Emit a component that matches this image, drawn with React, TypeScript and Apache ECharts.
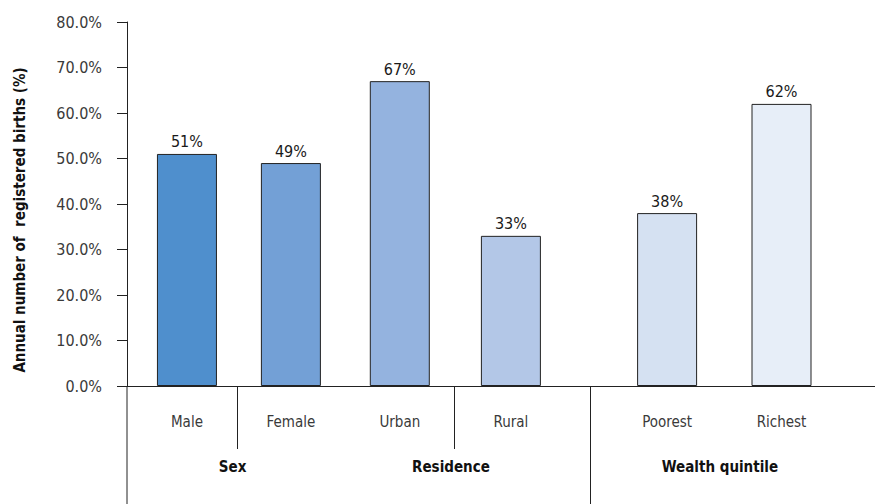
import React, { useEffect, useRef } from "react";
import * as echarts from "echarts";

const categories = ["Male", "Female", "Urban", "Rural", "Poorest", "Richest"];
const values = [51, 49, 67, 33, 38, 62];
const xPositions = [0.545, 1.49, 2.48, 3.49, 4.91, 5.95];
const barColors = ["#4f8fcd", "#73a0d6", "#94b3df", "#b3c7e7", "#d5e1f2", "#e7eef8"];
const groups = ["Sex", "Residence", "Wealth quintile"];
const groupCenters = [0.96, 2.945, 5.39];
const separators = [1.0, 2.973, 4.21];
const separatorLong = [false, false, true];
const yTicks = [0, 10, 20, 30, 40, 50, 60, 70, 80];

const FONT = "'Liberation Sans Narrow', 'DejaVu Sans Condensed', 'Roboto', sans-serif";

export default function App() {
  const ref = useRef<HTMLDivElement>(null);
  useEffect(() => {
    document.body.style.margin = "0";
    if (!ref.current) return;
    const chart = echarts.init(ref.current, null, { renderer: "svg" });
    const gridLeft = 127;
    const gridTop = 22;
    const gridHeight = 364;
    const unit = 110;
    const width = 875;
    chart.setOption({
      animation: false,
      textStyle: { fontFamily: FONT },
      grid: { left: gridLeft, top: gridTop, height: gridHeight, right: 0 },
      xAxis: {
        type: "value",
        min: 0,
        max: (width - gridLeft) / unit,
        axisLine: { show: true, onZero: true, lineStyle: { color: "#222", width: 1 } },
        axisTick: { show: false },
        axisLabel: { show: false },
        splitLine: { show: false },
      },
      yAxis: {
        type: "value",
        min: yTicks[0],
        max: yTicks[yTicks.length - 1],
        interval: 10,
        axisLine: { show: true, lineStyle: { color: "#222", width: 1 } },
        axisTick: { show: true, length: 10, lineStyle: { color: "#222" } },
        axisLabel: {
          margin: 25,
          color: "#3a3a3a",
          fontSize: 16,
          fontFamily: FONT,
          formatter: (v: number) => v.toFixed(1) + "%",
        },
        splitLine: { show: false },
      },
      series: [
        {
          type: "bar",
          barWidth: 60,
          data: xPositions.map((x, i) => ({
            value: [x, values[i]],
            itemStyle: { color: barColors[i], borderColor: "#222", borderWidth: 1 },
          })),
          label: {
            show: true,
            position: "top",
            distance: 4,
            color: "#1a1a1a",
            fontSize: 16,
            fontFamily: FONT,
            formatter: (p: any) => p.value[1] + "%",
          },
        },
      ],
    });

    const toPx = (u: number) => chart.convertToPixel({ xAxisIndex: 0 }, u) as number;
    const baseY = gridTop + gridHeight;
    const graphics: any[] = [];
    graphics.push({
      type: "line",
      shape: { x1: gridLeft, y1: baseY, x2: gridLeft, y2: 504 },
      style: { stroke: "#222", lineWidth: 1 },
    });
    separators.forEach((s, i) => {
      const x = Math.round(toPx(s)) + 0.5;
      graphics.push({
        type: "line",
        shape: { x1: x, y1: baseY, x2: x, y2: separatorLong[i] ? 504 : 449 },
        style: { stroke: "#222", lineWidth: 1 },
      });
    });
    categories.forEach((c, i) => {
      graphics.push({
        type: "text",
        x: toPx(xPositions[i]),
        y: 422,
        style: {
          text: c,
          fill: "#3a3a3a",
          font: `15px ${FONT}`,
          align: "center",
          verticalAlign: "middle",
        },
      });
    });
    groups.forEach((g, i) => {
      graphics.push({
        type: "text",
        x: toPx(groupCenters[i]),
        y: 467,
        style: {
          text: g,
          fill: "#111",
          font: `bold 15px ${FONT}`,
          align: "center",
          verticalAlign: "middle",
        },
      });
    });
    graphics.push({
      type: "text",
      x: 20,
      y: 220,
      rotation: Math.PI / 2,
      style: {
        text: "Annual number of  registered births (%)",
        fill: "#111",
        font: `bold 15px ${FONT}`,
        align: "center",
        verticalAlign: "middle",
      },
    });
    chart.setOption({ graphic: graphics });

    return () => chart.dispose();
  }, []);
  return <div ref={ref} style={{ width: 875, height: 504 }} />;
}
